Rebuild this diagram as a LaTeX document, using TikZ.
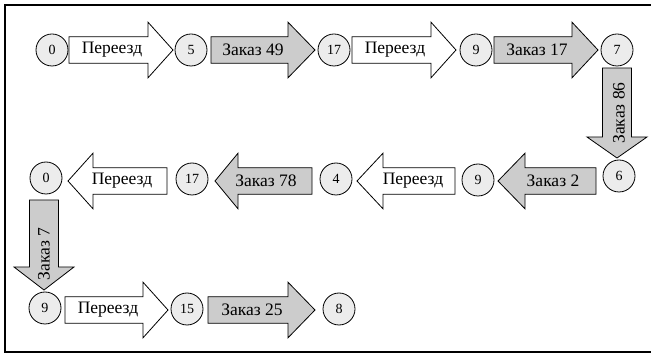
\documentclass[tikz,border=0pt]{standalone}
\usepackage{fontspec}
\setmainfont{Liberation Serif}
\newfontfamily\labelfont{Liberation Serif}
\tikzset{
  stopnode/.style={circle, draw, line width=0.8pt, fill=gray!15, minimum size=32pt, inner sep=0pt, font=\labelfont\fontsize{14}{14}\selectfont},
  movearrow/.style={draw, line width=0.8pt, fill=white},
  orderarrow/.style={draw, line width=0.8pt, fill=gray!40},
  arrowtext/.style={inner sep=0pt, font=\labelfont\fontsize{17.5}{17.5}\selectfont},
}
% horizontal block arrow: #1 style, #2 tail x, #3 head base x, #4 tip x, #5 y
\newcommand\blockH[5]{%
  \path[#1] (#2,#5-13.3) -- (#3,#5-13.3) -- (#3,#5-27.8) -- (#4,#5)
    -- (#3,#5+27.8) -- (#3,#5+13.3) -- (#2,#5+13.3) -- cycle;}
% vertical block arrow: #1 style, #2 x, #3 tail y, #4 head base y, #5 tip y
\newcommand\blockV[5]{%
  \path[#1] (#2-14.5,#3) -- (#2-14.5,#4) -- (#2-30,#4) -- (#2,#5)
    -- (#2+30,#4) -- (#2+14.5,#4) -- (#2+14.5,#3) -- cycle;}
\begin{document}
\begin{tikzpicture}[x=1pt, y=-1pt]
\useasboundingbox (0,0) rectangle (651,355);
\draw[line width=2pt] (670,5.5) -- (5,5.5) -- (5,352) -- (670,352);

% row 1, left to right
\blockH{movearrow}{69}{148}{173}{50}
\blockH{orderarrow}{211}{288}{315}{50}
\blockH{movearrow}{352}{431}{456}{50}
\blockH{orderarrow}{494}{572}{598}{50}
\node[arrowtext] (t1) at (112,50) {Переезд};
\node[arrowtext] (t2) at (253,50) {Заказ 49};
\node[arrowtext] (t3) at (395,50) {Переезд};
\node[arrowtext] (t4) at (537,50) {Заказ 17};

% down on the right
\blockV{orderarrow}{617}{68}{137}{158}
\node[arrowtext, rotate=90] (t5) at (619,113) {Заказ 86};

% row 2, right to left
\blockH{orderarrow}{596}{525}{498}{181}
\blockH{movearrow}{455}{383}{357}{181}
\blockH{orderarrow}{312}{238}{215}{181}
\blockH{movearrow}{167}{93}{68}{181}
\node[arrowtext] (t6) at (553,181) {Заказ 2};
\node[arrowtext] (t7) at (413,181) {Переезд};
\node[arrowtext] (t8) at (266,181) {Заказ 78};
\node[arrowtext] (t9) at (122,181) {Переезд};

% down on the left
\blockV{orderarrow}{44}{200}{267}{290}
\node[arrowtext, rotate=90] (t10) at (44,254) {Заказ 7};

% row 3
\blockH{movearrow}{65}{143}{168}{310}
\blockH{orderarrow}{208}{288}{315}{310}
\node[arrowtext] (t11) at (108,310) {Переезд};
\node[arrowtext] (t12) at (252,310) {Заказ 25};

% stops
\node[stopnode] (s1) at (52,50) {0};
\node[stopnode] (s2) at (191,50) {5};
\node[stopnode] (s3) at (334,50) {17};
\node[stopnode] (s4) at (476,50) {9};
\node[stopnode] (s5) at (617,50) {7};
\node[stopnode] (s6) at (619,176) {6};
\node[stopnode] (s7) at (478,180) {9};
\node[stopnode] (s8) at (336,179) {4};
\node[stopnode] (s9) at (192,179) {17};
\node[stopnode] (s10) at (46,178) {0};
\node[stopnode] (s11) at (45,308) {9};
\node[stopnode] (s12) at (187,309) {15};
\node[stopnode] (s13) at (339,309) {8};
\end{tikzpicture}
\end{document}
